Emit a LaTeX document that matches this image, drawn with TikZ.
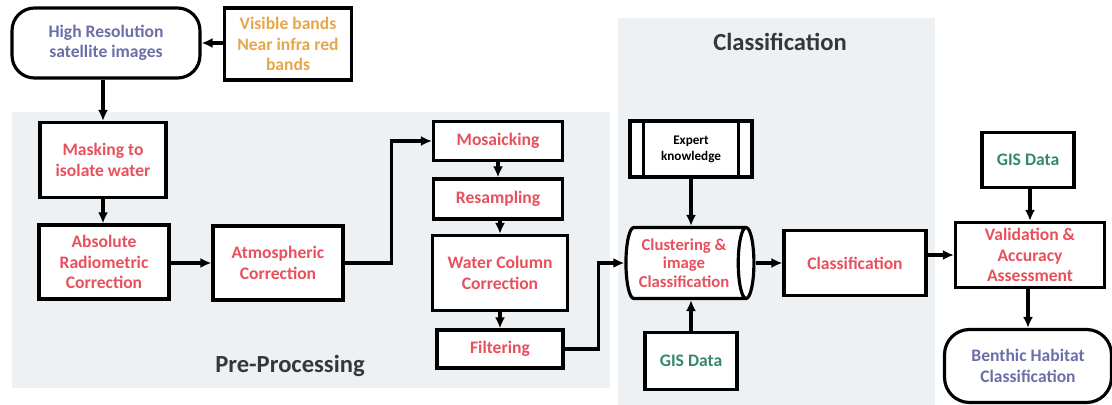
\documentclass[tikz,border=0pt]{standalone}
\usepackage{fontspec}
\setmainfont{Carlito}
\usetikzlibrary{shapes.geometric,arrows.meta}

\definecolor{stepred}{RGB}{232,80,92}
\definecolor{inputpurple}{RGB}{108,110,168}
\definecolor{bandorange}{RGB}{230,166,74}
\definecolor{gisgreen}{RGB}{52,136,104}
\definecolor{panelgray}{RGB}{238,241,244}
\definecolor{titlegray}{RGB}{55,55,58}

\begin{document}
\begin{tikzpicture}[
    x=0.02cm, y=-0.02cm,
    box/.style={draw=black,line width=1.8pt,fill=white,align=center,
        font=\bfseries\fontsize{10}{11.7}\selectfont,inner sep=2pt},
    stepbox/.style={box,text=stepred},
    endbox/.style={box,rounded corners=0.45cm,text=inputpurple},
    gisbox/.style={box,text=gisgreen},
    panel/.style={fill=panelgray,draw=none},
    paneltitle/.style={font=\bfseries\fontsize{14}{16}\selectfont,text=titlegray},
    arr/.style={line width=1.8pt,-{Latex[length=2.2mm,width=2mm]}}
]
\useasboundingbox (0,0) rectangle (1112,405);

% panels
\fill[panel] (12,112) rectangle (610,388);
\fill[panel] (618,18) rectangle (935,405);
\node[paneltitle] (pretitle) at (290,366) {Pre-Processing};
\node[paneltitle] (clstitle) at (780,42) {Classification};

% input
\node[endbox,minimum width=3.76cm,minimum height=1.4cm] (hr) at (106,43)
    {High Resolution\\satellite images};
\node[box,text=bandorange,minimum width=2.54cm,minimum height=1.44cm] (bands) at (288,44)
    {Visible bands\\Near infra red\\bands};

% pre-processing
\node[stepbox,minimum width=2.52cm,minimum height=1.5cm] (masking) at (103,160)
    {Masking to\\isolate water};
\node[stepbox,minimum width=2.6cm,minimum height=1.48cm] (absolute) at (104,262)
    {Absolute\\Radiometric\\Correction};
\node[stepbox,minimum width=2.6cm,minimum height=1.48cm] (atmo) at (278,263)
    {Atmospheric\\Correction};
\node[stepbox,minimum width=2.58cm,minimum height=0.78cm] (mosaic) at (498,141) {Mosaicking};
\node[stepbox,minimum width=2.58cm,minimum height=0.8cm] (resamp) at (498,199) {Resampling};
\node[stepbox,minimum width=2.7cm,minimum height=1.5cm] (water) at (500,273)
    {Water Column\\Correction};
\node[stepbox,minimum width=2.52cm,minimum height=0.76cm] (filter) at (500,349) {Filtering};

% classification
\node[box,minimum width=2.44cm,minimum height=1.12cm,
    font=\bfseries\fontsize{7.5}{9}\selectfont] (expert) at (691,149)
    {Expert\\knowledge};
\draw[line width=1.8pt] ([xshift=0.3cm]expert.north west) -- ([xshift=0.3cm]expert.south west);
\draw[line width=1.8pt] ([xshift=-0.3cm]expert.north east) -- ([xshift=-0.3cm]expert.south east);
\node[stepbox,cylinder,shape aspect=0.3,minimum width=1.42cm,minimum height=2.56cm,
    inner sep=1pt,font=\bfseries\fontsize{9.5}{10.5}\selectfont] (cluster) at (684,263)
    {Clustering \&\\image\\Classification};
\node[gisbox,minimum width=1.84cm,minimum height=1.14cm] (gisa) at (691,361) {GIS Data};
\node[stepbox,minimum width=2.84cm,minimum height=1.3cm] (classif) at (855,263) {Classification};

% validation
\node[gisbox,minimum width=1.84cm,minimum height=1.1cm] (gisb) at (1028,160) {GIS Data};
\node[stepbox,minimum width=2.98cm,minimum height=1.3cm] (valid) at (1030,255)
    {Validation \&\\Accuracy\\Assessment};
\node[endbox,rounded corners=0.5cm,minimum width=3.34cm,minimum height=1.46cm] (benthic) at (1028,366)
    {Benthic Habitat\\Classification};

% connectors
\draw[arr] (bands.west |- hr.east) -- (hr.east);
\draw[arr] (hr.south -| masking.north) -- (masking.north);
\draw[arr] (masking.south) -- (masking.south |- absolute.north);
\draw[arr] (absolute.east |- atmo.west) -- (atmo.west);
\draw[arr] (atmo.east) -- ++(47,0) |- (mosaic.west);
\draw[arr] (mosaic) -- (resamp);
\draw[arr] (resamp.south -| water.north) -- (water.north);
\draw[arr] (water) -- (filter);
\draw[arr] (filter.east) -- ++(34,0) |- (cluster.west);
\draw[arr] (expert.south) -- (expert.south |- cluster.north);
\draw[arr] (gisa.north) -- (gisa.north |- cluster.south);
\draw[arr] (cluster.east |- classif.west) -- (classif.west);
\draw[arr] (classif.east |- valid.west) -- (valid.west);
\draw[arr] (gisb.south -| valid.north) -- (valid.north);
\draw[arr] (valid.south -| benthic.north) -- (benthic.north);

\end{tikzpicture}
\end{document}
